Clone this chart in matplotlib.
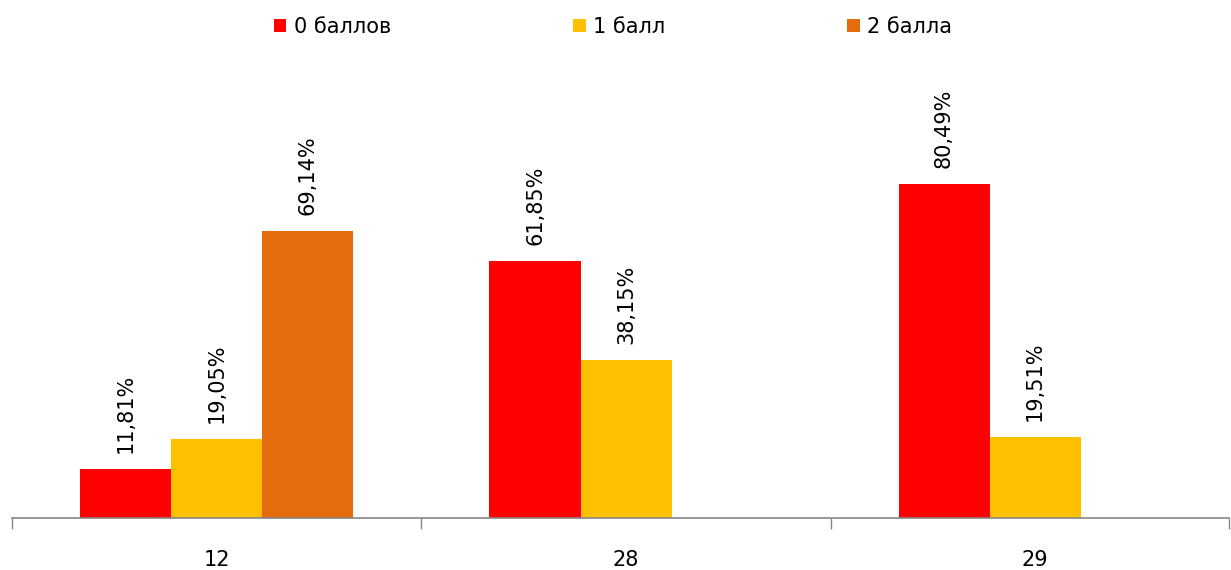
import matplotlib
matplotlib.use("Agg")
import matplotlib.pyplot as plt
import numpy as np
from matplotlib.patches import Patch

plt.rcParams["font.family"] = ["DejaVu Sans"]

# data
categories = ["12", "28", "29"]
series_names = ["0 баллов", "1 балл", "2 балла"]
zero_pts = [11.81, 61.85, 80.49]
one_pt = [19.05, 38.15, 19.51]
two_pts = [69.14, np.nan, np.nan]

_RED = "#FF0000"
_YELLOW = "#FFC000"
_ORANGE = "#E46C0A"
_AXIS = "#868686"

W, H = 1231, 570
fig = plt.figure(figsize=(W / 100, H / 100), dpi=100)
ax = fig.add_axes([12 / W, 52 / H, 1217 / W, 448 / H])

x = np.arange(len(categories))
bw = 0.2225
series = [zero_pts, one_pt, two_pts]
colors = [_RED, _YELLOW, _ORANGE]

for i, (vals, col) in enumerate(zip(series, colors)):
    xs = x + (i - 1) * bw
    ax.bar(xs, vals, width=bw, color=col, edgecolor="none")
    for xi, v in zip(xs, vals):
        if np.isnan(v):
            continue
        ax.annotate(f"{v:.2f}".replace(".", ",") + "%", (xi, v),
                    xytext=(0, 11.5), textcoords="offset points",
                    rotation=90, ha="center", va="bottom", fontsize=15)

# right end of the axis is clipped a little short of a full category
x_right = 2.474
ax.set_xlim(-0.501, x_right)
ax.set_ylim(0, 107.95)

ax.set_xticks(x)
ax.set_xticklabels(categories, fontsize=15)
ax.tick_params(axis="x", which="major", length=0, pad=23)
ax.set_xticks([-0.5, 0.5, 1.5, x_right], minor=True)
ax.tick_params(axis="x", which="minor", length=8, width=1, color=_AXIS, direction="out")
ax.set_yticks([])

for side in ("top", "right", "left"):
    ax.spines[side].set_visible(False)
ax.spines["bottom"].set_color(_AXIS)
ax.spines["bottom"].set_linewidth(1.2)

handles = [Patch(facecolor=c, edgecolor="none") for c in colors]
fig.legend(handles, series_names, loc="center", bbox_to_anchor=(613 / W, 1 - 27 / H),
           ncol=3, frameon=False, fontsize=15, handlelength=0.6, handleheight=0.6,
           handletextpad=0.35, columnspacing=8.75)

fig.savefig("out.png", dpi=100)
